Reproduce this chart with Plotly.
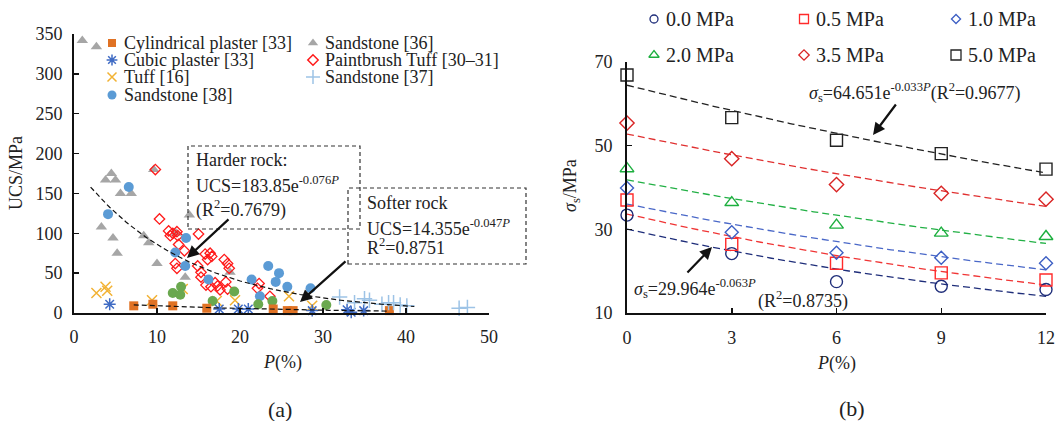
import numpy as np
import plotly.graph_objects as go

W, H = 1058, 421

# ---------------- Panel (a) data ----------------
cyl_P = [7.2, 9.5, 11.9, 16.0, 24.0, 25.7, 26.4, 38.0]
cyl_U = [9, 11, 9, 6, 5, 3, 3, 3]

cub_P = [4.3, 17.5, 19.8, 21.0, 28.7, 32.9, 33.4, 34.9]
cub_U = [11, 5, 5, 5, 3, 4, 1, 3]

tuff_P = [2.7, 3.8, 4.0, 9.4, 13.1, 17.2, 19.4, 25.9, 28.7]
tuff_U = [25, 33, 28, 16, 30, 15, 16, 21, 9]

ss38_P = [4.1, 6.6, 12.2, 13.5, 13.4, 16.2, 21.4, 22.4, 23.4, 24.7, 24.3, 25.7, 28.5]
ss38_U = [124, 158, 76, 94, 59, 42, 42, 21, 59, 50, 39, 33, 31]

ss36_P = [1.0, 2.7, 3.8, 4.5, 5.0, 5.6, 6.9, 3.3, 4.7, 5.2, 8.4, 9.0, 10.0, 13.4, 13.9, 12.3, 9.6, 18.8]
ss36_U = [342, 334, 167, 175, 167, 150, 150, 108, 94, 75, 97, 88, 62, 45, 123, 100, 180, 51]

pbt_P = [9.8, 10.3, 11.4, 11.9, 11.6, 12.4, 12.5, 15.0, 12.6, 13.3, 15.8, 16.4, 16.1, 16.6,
         12.2, 12.4, 14.9, 15.3, 15.3, 18.1, 18.5, 18.7, 15.9, 16.5, 17.0, 17.3, 17.6, 18.3,
         18.5, 22.3, 22.1, 23.6]
pbt_U = [180, 118, 103, 100, 97, 102, 97, 99, 86, 78, 74, 75, 67, 71,
         62, 56, 59, 51, 45, 67, 62, 56, 35, 33, 38, 34, 29, 39,
         30, 37, 31, 21]

ss37_P = [32.0, 33.8, 35.0, 35.6, 37.1, 37.9, 38.5, 39.3, 40.1, 46.4, 47.4]
ss37_U = [20, 13, 18, 16, 11, 13, 13, 10, 9, 6, 7]

green_P = [11.9, 12.9, 12.8, 16.7, 19.3, 22.2, 23.9, 30.4]
green_U = [25, 33, 23, 15, 27, 11, 15, 10]

hard_fit = [183.85, 0.076]   # UCS = a*exp(-b*P)
hard_rng = [2.0, 41.0]
soft_fit = [14.355, 0.047]
soft_rng = [7.2, 38.0]

# ---------------- Panel (b) data ----------------
P_b = [0, 3, 6, 9, 12]
stress_labels = ["0.0 MPa", "0.5 MPa", "1.0 MPa", "2.0 MPa", "3.5 MPa", "5.0 MPa"]
sig_00 = [33.4, 24.2, 17.5, 16.4, 15.6]
sig_05 = [37.0, 26.4, 21.9, 19.6, 17.9]
sig_10 = [39.9, 29.3, 24.4, 23.2, 21.9]
sig_20 = [44.5, 36.4, 31.0, 29.1, 28.3]
sig_35 = [55.4, 46.9, 40.7, 38.6, 37.2]
sig_50 = [66.9, 56.7, 51.3, 48.1, 44.4]
sig_all = [sig_00, sig_05, sig_10, sig_20, sig_35, sig_50]

# ---------------- helpers ----------------
def px(x):
    return x / W

def py(y):
    return 1 - y / H

FONT = "Liberation Serif, Times New Roman, serif"

fig = go.Figure()

ax_a = dict(x0=74, x1=489, y0=313, y1=34)
ax_b = dict(x0=627, x1=1046, y0=313, y1=62)

styles_a = [
    ("Sandstone [36]", ss36_P, ss36_U, "triangle-up", "#A6A6A6", 10, 0),
    ("Paintbrush Tuff [30\u201331]", pbt_P, pbt_U, "diamond-open", "#FF1A1A", 8, 1.3),
    ("Sandstone [38]", ss38_P, ss38_U, "circle", "#5B9BD5", 10, 0),
    ("Tuff [16]", tuff_P, tuff_U, "x-thin-open", "#F2B233", 10, 1.5),
    ("green", green_P, green_U, "circle", "#6AA84F", 10, 0),
    ("Cylindrical plaster [33]", cyl_P, cyl_U, "square", "#E07224", 9, 0),
    ("Cubic plaster [33]", cub_P, cub_U, "asterisk-open", "#3F6BC4", 10, 1.5),
    ("Sandstone [37]", ss37_P, ss37_U, "cross-thin-open", "#9DC3E6", 11, 1.5),
]

for name, P, U, sym, col, size, lw in styles_a:
    if "open" in sym:
        marker = dict(symbol=sym, size=size, color=col, line=dict(color=col, width=lw))
    else:
        marker = dict(symbol=sym, size=size, color=col, line=dict(width=0))
    fig.add_trace(go.Scatter(x=P, y=U, mode="markers", marker=marker, cliponaxis=False,
                             showlegend=False, xaxis="x", yaxis="y", name=name))

for (a, b), (lo, hi) in [(hard_fit, hard_rng), (soft_fit, soft_rng)]:
    xx = np.linspace(lo, hi, 120)
    fig.add_trace(go.Scatter(x=xx, y=a * np.exp(-b * xx), mode="lines",
                             line=dict(color="#111", width=1.2, dash="5px,3px"),
                             showlegend=False, xaxis="x", yaxis="y"))

colors_b = ["#1F2E7A", "#FF2A2A", "#3D5FC4", "#1DAF3F", "#D92525", "#222222"]
lcolors_b = ["#1F2E7A", "#F03535", "#4A68C8", "#22B045", "#E03030", "#222222"]
symbols_b = ["circle-open", "square-open", "diamond-open", "triangle-up-open", "diamond-open", "square-open"]
sizes_b = [12, 12, 10, 12, 11, 12]

for i, sig in enumerate(sig_all):
    coef = np.polyfit(P_b, np.log(sig), 1)
    xx = np.linspace(0, 12, 120)
    fig.add_trace(go.Scatter(x=xx, y=np.exp(coef[1] + coef[0] * xx), mode="lines",
                             line=dict(color=lcolors_b[i], width=1.3, dash="7px,4px"),
                             showlegend=False, xaxis="x2", yaxis="y2"))
for i, sig in enumerate(sig_all):
    fig.add_trace(go.Scatter(x=P_b, y=sig, mode="markers", cliponaxis=False,
                             marker=dict(symbol=symbols_b[i], size=sizes_b[i], color=colors_b[i],
                                         line=dict(color=colors_b[i], width=1.4)),
                             showlegend=False, xaxis="x2", yaxis="y2", name=stress_labels[i]))

leg_a = [
    ("Cylindrical plaster [33]", "square", "#E07224", 8, 0, 112, 43),
    ("Cubic plaster [33]", "asterisk-open", "#3F6BC4", 9, 1.5, 112, 60),
    ("Tuff [16]", "x-thin-open", "#F2B233", 9, 1.5, 112, 77),
    ("Sandstone [38]", "circle", "#5B9BD5", 9, 0, 112, 95),
    ("Sandstone [36]", "triangle-up", "#A6A6A6", 9, 0, 313, 43),
    ("Paintbrush Tuff [30\u201331]", "diamond-open", "#FF1A1A", 8, 1.5, 313, 60),
    ("Sandstone [37]", "cross-thin-open", "#9DC3E6", 10, 1.5, 313, 77),
]
annotations = []
for text, sym, col, size, lw, mx, my in leg_a:
    fig.add_trace(go.Scatter(x=[mx], y=[my], mode="markers", xaxis="x3", yaxis="y3",
                             marker=dict(symbol=sym, size=size, color=col,
                                         line=dict(color=col, width=lw)),
                             showlegend=False, hoverinfo="skip"))
    annotations.append(dict(x=px(mx + 10), y=py(my), xref="paper", yref="paper", text=text,
                            showarrow=False, xanchor="left", yanchor="middle",
                            font=dict(family=FONT, size=18, color="#222")))

leg_b_pos = [(654, 19), (804, 19), (956, 19), (654, 55), (804, 55), (956, 55)]
leg_b_size = [8, 9, 7, 9, 8, 10]
for i, (mx, my) in enumerate(leg_b_pos):
    fig.add_trace(go.Scatter(x=[mx], y=[my], mode="markers", xaxis="x3", yaxis="y3",
                             marker=dict(symbol=symbols_b[i], size=leg_b_size[i], color=colors_b[i],
                                         line=dict(color=colors_b[i], width=1.3)),
                             showlegend=False, hoverinfo="skip"))
    annotations.append(dict(x=px(mx + 10), y=py(my), xref="paper", yref="paper",
                            text=stress_labels[i], showarrow=False, xanchor="left",
                            yanchor="middle", font=dict(family=FONT, size=20, color="#222")))

def txt(x, y, s, size=18, **kw):
    d = dict(x=px(x), y=py(y), xref="paper", yref="paper", text=s, showarrow=False,
             xanchor="left", yanchor="middle", font=dict(family=FONT, size=size, color="#222"))
    d.update(kw)
    annotations.append(d)

def arrow(tipx, tipy, tailx, taily):
    annotations.append(dict(x=px(tipx), y=py(tipy), xref="paper", yref="paper", text="",
                            showarrow=True, ax=tailx - tipx, ay=taily - tipy,
                            arrowhead=2, arrowsize=1.1, arrowwidth=2.2,
                            arrowcolor="#111", standoff=0))

txt(194, 160, "Harder rock:")
txt(194, 184, "UCS=183.85e<sup>-0.076<i>P</i></sup>")
txt(194, 209, "(R<sup>2</sup>=0.7679)")
txt(365, 203, "Softer rock")
txt(365, 227, "UCS=14.355e<sup>-0.047<i>P</i></sup>")
txt(365, 247, "R<sup>2</sup>=0.8751")
arrow(187, 258, 230, 218)
arrow(300, 302, 347, 260)

txt(807, 92, "<i>\u03c3</i><sub>s</sub>=64.651e<sup>-0.033<i>P</i></sup>(R<sup>2</sup>=0.9677)")
txt(632, 288, "<i>\u03c3</i><sub>s</sub>=29.964e<sup>-0.063<i>P</i></sup>")
txt(756, 300, "(R<sup>2</sup>=0.8735)")
arrow(873, 135, 897, 103)
arrow(712, 247, 686, 274)

txt(16, 173, "UCS/MPa", xanchor="center", textangle=-90)
txt(572, 186, "<i>\u03c3</i><sub>s</sub>/MPa", xanchor="center", textangle=-90)
txt(282, 362, "<i>P</i>(%)", xanchor="center")
txt(836, 363, "<i>P</i>(%)", xanchor="center")
txt(280, 409, "(a)", size=22, xanchor="center")
txt(852, 408, "(b)", size=22, xanchor="center")

shapes = [
    dict(type="rect", xref="paper", yref="paper", x0=px(188), x1=px(360), y0=py(229), y1=py(146),
         line=dict(color="#333", width=1.2, dash="4px,3px")),
    dict(type="rect", xref="paper", yref="paper", x0=px(348), x1=px(526), y0=py(264), y1=py(188),
         line=dict(color="#333", width=1.2, dash="4px,3px")),
]

axis_common = dict(showgrid=False, zeroline=False, showline=True, linecolor="#111", linewidth=2,
                   ticks="inside", ticklen=5, tickwidth=1.5, tickcolor="#111", automargin=False,
                   tickfont=dict(family=FONT, size=18, color="#222"), fixedrange=True)

fig.update_layout(
    template="none",
    width=W, height=H, margin=dict(l=0, r=0, t=0, b=0, pad=0), autosize=False,
    paper_bgcolor="white", plot_bgcolor="rgba(0,0,0,0)",
    showlegend=False,
    xaxis=dict(domain=[px(ax_a["x0"]), px(ax_a["x1"])], range=[0, 50], tickvals=[0, 10, 20, 30, 40, 50],
               anchor="y", ticklabelstandoff=6, **axis_common),
    yaxis=dict(domain=[py(ax_a["y0"]), py(ax_a["y1"])], range=[0, 350],
               tickvals=[0, 50, 100, 150, 200, 250, 300, 350], anchor="x", ticklabelstandoff=6,
               **axis_common),
    xaxis2=dict(domain=[px(ax_b["x0"]), px(ax_b["x1"])], range=[0, 12], tickvals=[0, 3, 6, 9, 12],
                anchor="y2", ticklabelstandoff=7, **axis_common),
    yaxis2=dict(domain=[py(ax_b["y0"]), py(ax_b["y1"])], range=[10, 70], tickvals=[10, 30, 50, 70],
                anchor="x2", ticklabelstandoff=9, **axis_common),
    xaxis3=dict(domain=[0, 1], range=[0, W], visible=False, anchor="y3", fixedrange=True,
                automargin=False),
    yaxis3=dict(domain=[0, 1], range=[H, 0], visible=False, anchor="x3", fixedrange=True,
                automargin=False),
    annotations=annotations,
    shapes=shapes,
)

fig.write_html("out.html", config={"displayModeBar": False, "staticPlot": True},
               post_script=("document.documentElement.style.margin='0px';"
                            "document.documentElement.style.overflow='hidden';"
                            "document.body.style.margin='0px';document.body.style.overflow='hidden';"))
